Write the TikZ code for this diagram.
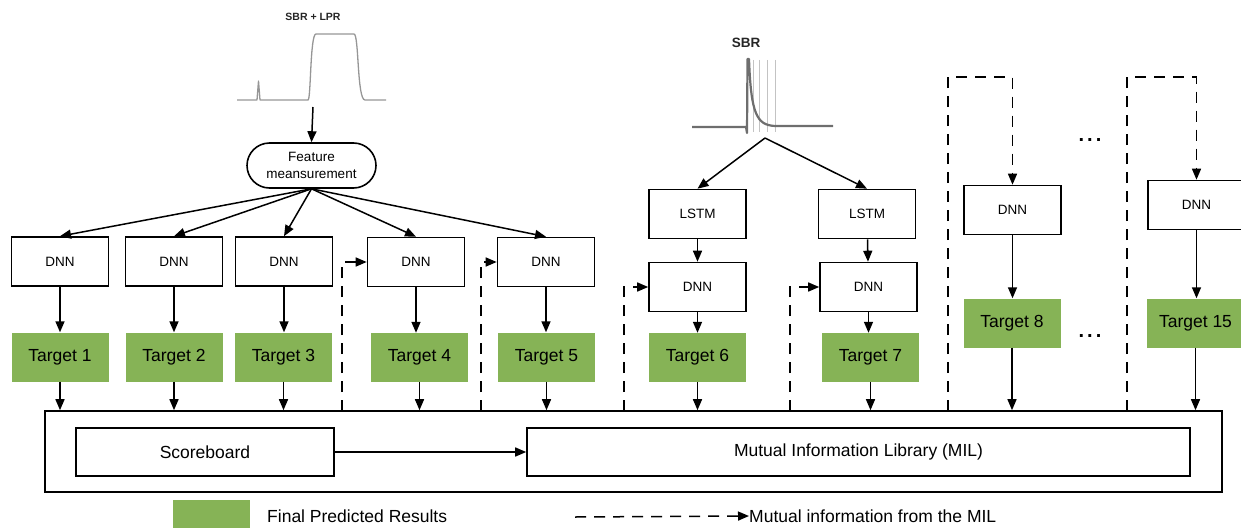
\documentclass[tikz,border=0pt]{standalone}
\usepackage{fontspec}
\setmainfont{Liberation Sans}
\usetikzlibrary{arrows.meta,shapes.misc}
\definecolor{tgreen}{RGB}{134,179,86}
\definecolor{wave}{RGB}{150,150,150}
\definecolor{wavedark}{RGB}{110,110,110}
\definecolor{wavelight}{RGB}{195,195,195}
\tikzset{
  box/.style={draw, line width=1.6pt, minimum width=97pt, minimum height=49pt, inner sep=0pt,
    font=\fontsize{13.5}{16}\selectfont},
  tgt/.style={fill=tgreen, minimum width=97pt, minimum height=49pt, inner sep=0pt,
    font=\fontsize{17.5}{20}\selectfont},
  bigbox/.style={draw, line width=1.6pt, inner sep=0pt, font=\fontsize{17.5}{20}\selectfont},
  arr/.style={-{Triangle[length=11pt,width=9pt]}, line width=1.5pt},
  mi/.style={arr, dash pattern=on 11pt off 8pt},
  lbl/.style={font=\fontsize{17.5}{20}\selectfont, inner sep=0pt},
}
\begin{document}
\begin{tikzpicture}[x=1pt,y=-1pt]
\useasboundingbox (0,0) rectangle (1241,527);

% --- input signal: SBR + LPR ---
\node[font=\bfseries\fontsize{10.5}{12}\selectfont, text=black!85] (sl) at (313,17) {SBR + LPR};
\draw[wave, line width=1.3pt, line join=round]
  (237,100) -- (257,100) -- (258.5,81) -- (260,100) -- (308,100)
  .. controls (311,100) and (310,34) .. (316,34) -- (354,34)
  .. controls (359,34) and (357,100) .. (365,100) -- (386,100);
\coordinate (w1) at (313,107);

\node[draw, rounded rectangle, line width=1.6pt, minimum width=129pt, minimum height=45pt,
  inner sep=0pt, align=center, font=\fontsize{13.5}{16.5}\selectfont] (fm) at (311.5,165.5)
  {Feature\\meansurement};
\draw[arr] (w1) -- (fm.north);

% --- input signal: SBR ---
\node[font=\bfseries\fontsize{13.5}{15}\selectfont, text=black!85] (sr) at (746,43) {SBR};
\foreach \xx in {753,759,767,775}
  \draw[wavelight, line width=1pt] (\xx,60) -- (\xx,132);
\draw[wavedark, line width=2.2pt, line join=round]
  (692,127) -- (746,127) -- (747,133) -- (747.5,59) -- (749,59)
  .. controls (751,115) and (757,125) .. (775,126) -- (833,126);
\coordinate (w2) at (765,138);

% --- first-row networks ---
\node[box] (d1) at (60,261.5) {DNN};
\node[box] (d2) at (174,261.5) {DNN};
\node[box] (d3) at (284,261.5) {DNN};
\node[box] (d4) at (416,262) {DNN};
\node[box] (d5) at (546,262) {DNN};
\foreach \d in {d1,d2,d3,d4,d5}
  \draw[arr] (fm.south) -- (\d.north);

% --- recurrent branches ---
\node[box] (l6) at (697.5,214) {LSTM};
\node[box] (l7) at (867,214) {LSTM};
\node[box] (d6) at (697.5,287) {DNN};
\node[box] (d7) at (868.5,287) {DNN};
\draw[arr] (w2) -- (l6.north);
\draw[arr] (w2) -- (l7.north);
\draw[arr] (l6) -- (d6);
\draw[arr] (l7) -- (d7);

% --- further networks ---
\node[box] (d8) at (1012.5,210) {DNN};
\node[box] (d15) at (1196.5,205) {DNN};

% --- targets ---
\node[tgt] (t1) at (60,357) {Target 1};
\node[tgt] (t2) at (174,357) {Target 2};
\node[tgt] (t3) at (283.5,357) {Target 3};
\node[tgt] (t4) at (419.5,357.5) {Target 4};
\node[tgt] (t5) at (546.5,357) {Target 5};
\node[tgt] (t6) at (697.5,357.5) {Target 6};
\node[tgt] (t7) at (870.5,357.5) {Target 7};
\node[tgt] (t8) at (1012,323) {Target 8};
\node[tgt] (t15) at (1195.5,323) {Target 15};

\foreach \a/\b in {d1/t1,d2/t2,d3/t3,d4/t4,d5/t5,d6/t6,d7/t7,d8/t8,d15/t15}
  \draw[arr] (\a.south) -- (\a.south |- \b.north);

% --- shared library block ---
\node[bigbox, minimum width=1177pt, minimum height=81pt] (frame) at (633.5,451.5) {};
\node[bigbox, minimum width=258pt, minimum height=48pt] (sb) at (205,452) {Scoreboard};
\node[bigbox, minimum width=663pt, minimum height=48pt] (mil) at (858.5,452) {Mutual Information Library (MIL)};
\draw[arr] (sb) -- (mil);

\foreach \t in {t1,t2,t3,t4,t5,t6,t7,t8,t15}
  \draw[arr] (\t.south) -- (\t.south |- frame.north);

% --- mutual information feedback ---
\coordinate (m4) at (342,411);
\coordinate (m5) at (481,411);
\coordinate (m6) at (624,411);
\coordinate (m7) at (790,411);
\coordinate (m8) at (948,411);
\coordinate (m15) at (1127,411);
\draw[mi] (m4) |- (d4.west);
\draw[mi] (m5) |- (d5.west);
\draw[mi] (m6) |- (d6.west);
\draw[mi] (m7) |- (d7.west);
\draw[mi] (m8) -- ++(0,-334) -| (d8.north);
\draw[mi] (m15) -- ++(0,-334) -| (d15.north);

% --- ellipses ---
\node[lbl, font=\bfseries\fontsize{20}{22}\selectfont] (e1) at (1090,140) {.\hspace{3pt}.\hspace{3pt}.};
\node[lbl, font=\bfseries\fontsize{20}{22}\selectfont] (e2) at (1090,336) {.\hspace{3pt}.\hspace{3pt}.};

% --- legend ---
\node[fill=tgreen, minimum width=77pt, minimum height=30pt, inner sep=0pt] (lg) at (211.5,515) {};
\node[lbl, anchor=west] (lgt) at (267,516) {Final Predicted Results};
\coordinate (la) at (575,517);
\node[lbl, anchor=west] (lmt) at (749,516) {Mutual information from the MIL};
\draw[mi] (la) -- (lmt.west);
\end{tikzpicture}
\end{document}
